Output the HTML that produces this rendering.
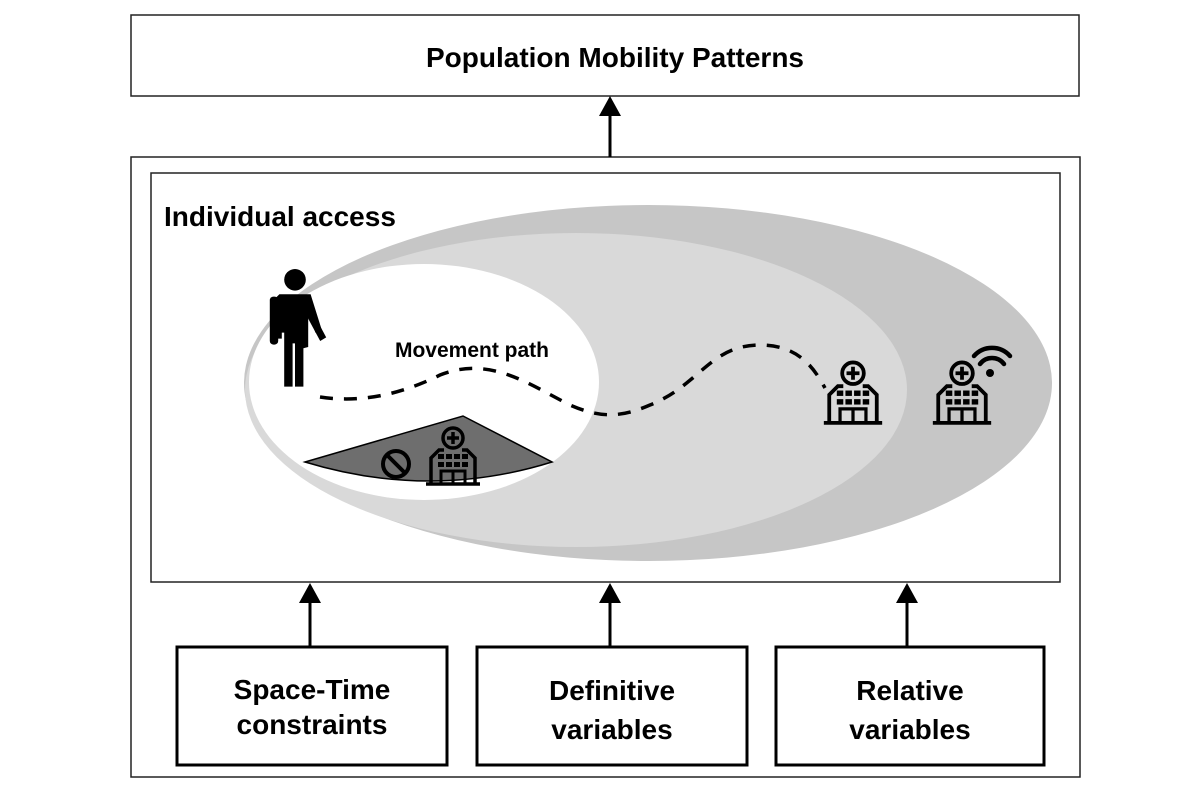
<!DOCTYPE html>
<html><head><style>body{margin:0;background:#fff}svg{display:block}text{font-family:"Liberation Sans",sans-serif;font-weight:bold;fill:#000}</style></head><body>
<svg width="1200" height="800" viewBox="0 0 1200 800">
<defs>
<g id="hosp">
<circle cx="0" cy="-22" r="10" fill="none" stroke="#000" stroke-width="3.5"/>
<path d="M0-28v12M-6-22h12" stroke="#000" stroke-width="3.5"/>
<path d="M-22 24V-2l8-8h5M22 24V-2l-8-8h-5" fill="none" stroke="#000" stroke-width="3.5"/>
<path d="M-27 24h54" stroke="#000" stroke-width="3.5"/>
<g fill="#000"><rect x="-15" y="-6" width="6" height="5"/><rect x="-7" y="-6" width="6" height="5"/><rect x="1" y="-6" width="6" height="5"/><rect x="9" y="-6" width="6" height="5"/>
<rect x="-15" y="2" width="6" height="5"/><rect x="-7" y="2" width="6" height="5"/><rect x="1" y="2" width="6" height="5"/><rect x="9" y="2" width="6" height="5"/></g>
<path d="M-12 24V11h24v13M0 11v13" fill="none" stroke="#000" stroke-width="3"/>
</g>
</defs>
<rect x="131" y="15" width="948" height="81" fill="#fff" stroke="#222" stroke-width="1.5"/>
<text x="615" y="67" font-size="28" text-anchor="middle">Population Mobility Patterns</text>
<rect x="131" y="157" width="949" height="620" fill="#fff" stroke="#222" stroke-width="1.5"/>
<rect x="151" y="173" width="909" height="409" fill="#fff" stroke="#222" stroke-width="1.5"/>
<ellipse cx="648" cy="383" rx="404" ry="178" fill="#c6c6c6"/>
<ellipse cx="576" cy="390" rx="331" ry="157" fill="#d9d9d9"/>
<ellipse cx="424" cy="382" rx="175" ry="118" fill="#fff"/>
<path d="M305 462 L463 416 L552 462 Q430 500 305 462Z" fill="#6e6e6e" stroke="#000" stroke-width="1.5"/>
<circle cx="396" cy="464" r="13" fill="none" stroke="#000" stroke-width="4"/>
<path d="M387 455L405 473" stroke="#000" stroke-width="4"/>
<use href="#hosp" transform="translate(453,460)"/>
<use href="#hosp" transform="translate(853,397) scale(1.08)"/>
<use href="#hosp" transform="translate(962,397) scale(1.08)"/>
<g fill="none" stroke="#000" stroke-width="4.5" stroke-linecap="round">
<path d="M974 356a24 24 0 0 1 36 0"/><path d="M980 364a15 15 0 0 1 24 0"/></g>
<circle cx="990" cy="373" r="4"/>
<g transform="translate(295,269) scale(1.2) translate(-295,-269)">
<circle cx="295" cy="278" r="9"/>
<path d="M282 290h26l10 32h-6l-6-18v30l-4 1v32h-7v-36h-2v36h-7V322h-2v5h-6v-33z" fill="#000"/>
<rect x="274" y="292" width="7" height="40" rx="3"/>
<path d="M305 296l16 30l-5 3l-14-26z"/>
</g>
<text x="472" y="357" font-size="21" text-anchor="middle">Movement path</text>
<path d="M320 397 C360 403 400 395 440 375 C490 355 530 385 570 405 C600 418 620 418 650 405 C700 385 710 345 760 345 C800 345 815 370 825 388" fill="none" stroke="#000" stroke-width="3.5" stroke-dasharray="13,11"/>
<text x="164" y="226" font-size="28">Individual access</text>
<g stroke="#000" stroke-width="3">
<line x1="610" y1="157" x2="610" y2="110"/>
<line x1="310" y1="647" x2="310" y2="596"/>
<line x1="610" y1="647" x2="610" y2="596"/>
<line x1="907" y1="647" x2="907" y2="596"/>
</g>
<g fill="#000">
<path d="M610 96l-11 20h22z"/>
<path d="M310 583l-11 20h22z"/>
<path d="M610 583l-11 20h22z"/>
<path d="M907 583l-11 20h22z"/>
</g>
<g fill="#fff" stroke="#000" stroke-width="3">
<rect x="177" y="647" width="270" height="118"/>
<rect x="477" y="647" width="270" height="118"/>
<rect x="776" y="647" width="268" height="118"/>
</g>
<g font-size="28" text-anchor="middle">
<text x="312" y="699">Space-Time</text><text x="312" y="734">constraints</text>
<text x="612" y="700">Definitive</text><text x="612" y="739">variables</text>
<text x="910" y="700">Relative</text><text x="910" y="739">variables</text>
</g>
</svg>
</body></html>
